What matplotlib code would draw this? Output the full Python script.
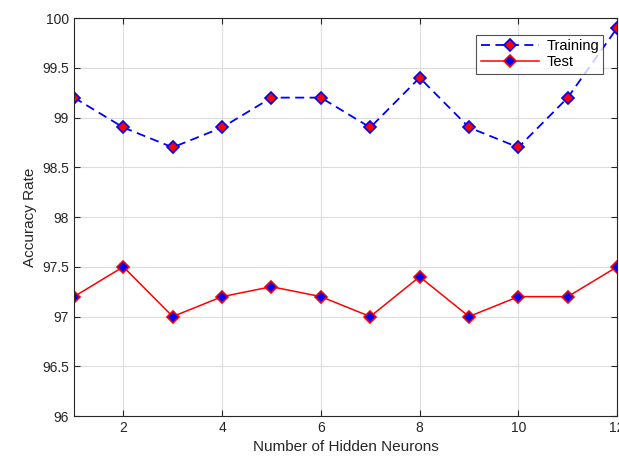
import matplotlib
matplotlib.use("Agg")
import matplotlib.pyplot as plt

plt.rcParams['font.family'] = ['Liberation Sans', 'DejaVu Sans']

# data
neurons = [1, 2, 3, 4, 5, 6, 7, 8, 9, 10, 11, 12]
training = [99.2, 98.9, 98.7, 98.9, 99.2, 99.2, 98.9, 99.4, 98.9, 98.7, 99.2, 99.9]
test = [97.2, 97.5, 97.0, 97.2, 97.3, 97.2, 97.0, 97.4, 97.0, 97.2, 97.2, 97.5]

fig = plt.figure(figsize=(6.19, 4.68), dpi=100)
ax = fig.add_axes([0.1195, 0.111, 0.8775, 0.8505])

ax.plot(neurons, training, '--', color='blue', lw=1.3, dashes=(5, 3),
        marker='D', ms=6, mfc='red', mec='blue', mew=1.2, label='Training')
ax.plot(neurons, test, '-', color='red', lw=1.1,
        marker='D', ms=6, mfc='blue', mec='red', mew=1.2, label='Test')

ax.set_xlim(1, 12)
ax.set_ylim(96, 100)
ax.set_xticks([2, 4, 6, 8, 10, 12])
ax.set_yticks([96, 96.5, 97, 97.5, 98, 98.5, 99, 99.5, 100])
ax.set_yticklabels(['96', '96.5', '97', '97.5', '98', '98.5', '99', '99.5', '100'])
ax.grid(True, color='#dcdcdc', lw=0.8)
ax.set_axisbelow(True)
ax.tick_params(direction='in', top=True, right=True, labelsize=10, colors='#262626',
               length=4)
for s in ax.spines.values():
    s.set_color('#262626')
    s.set_linewidth(0.8)

ax.set_xlabel('Number of Hidden Neurons', fontsize=11, color='#262626')
ax.set_ylabel('Accuracy Rate', fontsize=11, color='#262626')

leg = ax.legend(loc='upper right', bbox_to_anchor=(0.98, 0.965), fancybox=False,
                edgecolor='#262626', fontsize=10.5, handlelength=4,
                borderpad=0.3, labelspacing=0.15, borderaxespad=0.2,
                handletextpad=0.5)
leg.get_frame().set_linewidth(0.8)

fig.savefig('out.png', dpi=100)
